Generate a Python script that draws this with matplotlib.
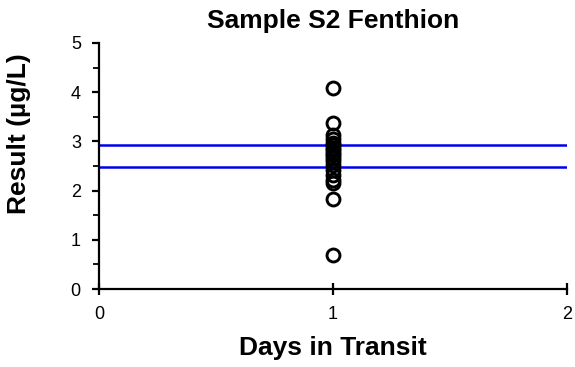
import matplotlib
matplotlib.use("Agg")
import matplotlib.pyplot as plt
from matplotlib.ticker import MultipleLocator

plt.rcParams['font.family'] = ['Liberation Sans', 'DejaVu Sans']

# data
days = [1] * 19
results = [4.08, 3.37, 3.12, 3.05, 2.97, 2.92, 2.87, 2.82, 2.77, 2.72,
           2.67, 2.6, 2.52, 2.42, 2.32, 2.22, 2.15, 1.82, 0.70]
limits = [2.93, 2.47]

fig = plt.figure(figsize=(5.75, 3.67), dpi=100)
ax = fig.add_axes([0.172, 0.2125, 0.814, 0.6705])

for lim in limits:
    ax.axhline(lim, color='#0000ee', lw=1.8, zorder=1)
ax.plot(days, results, 'o', mfc='none', mec='black', ms=9.3, mew=2.1, zorder=2)

ax.set_xlim(0, 2)
ax.set_ylim(0, 5)
ax.xaxis.set_major_locator(MultipleLocator(1))
ax.yaxis.set_major_locator(MultipleLocator(1))
ax.yaxis.set_minor_locator(MultipleLocator(0.5))
for s in ['top', 'right']:
    ax.spines[s].set_visible(False)
for s in ['left', 'bottom']:
    ax.spines[s].set_linewidth(1.6)
ax.tick_params(which='major', direction='out', length=5, width=1.6, labelsize=13, pad=8)
ax.tick_params(which='minor', direction='out', length=4, width=1.3)
ax.tick_params(axis='x', which='major', direction='inout', length=8, pad=8)

# title and labels placed where the original has them
ax.set_title('Sample S2 Fenthion', fontsize=19, fontweight='bold', y=1.088, va='center', pad=0)
ax.set_xlabel('Days in Transit', fontsize=19, fontweight='bold', va='center')
ax.xaxis.set_label_coords(0.5, -0.238)
ax.set_ylabel('Result (µg/L)', fontsize=19, fontweight='bold', va='center')
ax.yaxis.set_label_coords(-0.170, 0.63)

fig.savefig('out.png', dpi=100)
